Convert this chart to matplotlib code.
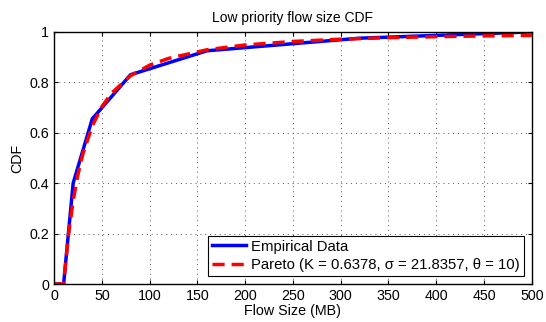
import numpy as np
import matplotlib
matplotlib.use('Agg')
import matplotlib.pyplot as plt

# empirical CDF points
emp_x = [0, 10, 20, 40, 80, 160, 320, 500]
emp_y = [0, 0, 0.40, 0.655, 0.83, 0.925, 0.975, 1.0]

# pareto fit curve
par_x = [0, 10, 15, 20, 25, 30, 40, 50, 60, 80, 100, 120, 160, 200, 250,
         300, 350, 400, 450, 500]
par_y = [0, 0, 0.192, 0.331, 0.434, 0.514, 0.627, 0.703, 0.756, 0.826,
         0.868, 0.895, 0.929, 0.948, 0.962, 0.971, 0.977, 0.981, 0.984, 0.986]

plt.rcParams['font.family'] = ['Liberation Sans', 'DejaVu Sans']
plt.rcParams['font.size'] = 10

fig = plt.figure(figsize=(5.46, 3.22), dpi=100)
ax = fig.add_axes([0.099, 0.118, 0.875, 0.783])

ax.plot(emp_x, emp_y, color='#0000ff', lw=2.5, label='Empirical Data')
ax.plot(par_x, par_y, color='#ff0000', lw=2.5, ls=(0, (3.5, 2)),
        label='Pareto (K = 0.6378, \u03c3 = 21.8357, \u03b8 = 10)')

ax.set_xlim(0, 500)
ax.set_ylim(0, 1)
ax.set_xticks(np.arange(0, 501, 50))
ax.set_yticks([0, 0.2, 0.4, 0.6, 0.8, 1])
ax.set_yticklabels(['0', '0.2', '0.4', '0.6', '0.8', '1'])
ax.tick_params(direction='in', top=True, right=True, length=3, width=0.8,
               labelsize=10.3)
ax.grid(True, ls=(0, (1, 4)), color='#555555', lw=0.7)
for s in ax.spines.values():
    s.set_linewidth(1.0)

ax.set_xlabel('Flow Size (MB)', labelpad=1, fontsize=10.3)
ax.set_ylabel('CDF', labelpad=4, fontsize=10.3)
ax.set_title('Low priority flow size CDF', fontsize=10, pad=7)

leg = ax.legend(loc='lower right', fancybox=False, edgecolor='black',
                framealpha=1, borderpad=0.25, labelspacing=0.3,
                handlelength=2.3, handletextpad=0.35, borderaxespad=0.55,
                prop={'size': 10.75})
leg.get_frame().set_linewidth(0.8)

fig.savefig('out.png', dpi=100)
